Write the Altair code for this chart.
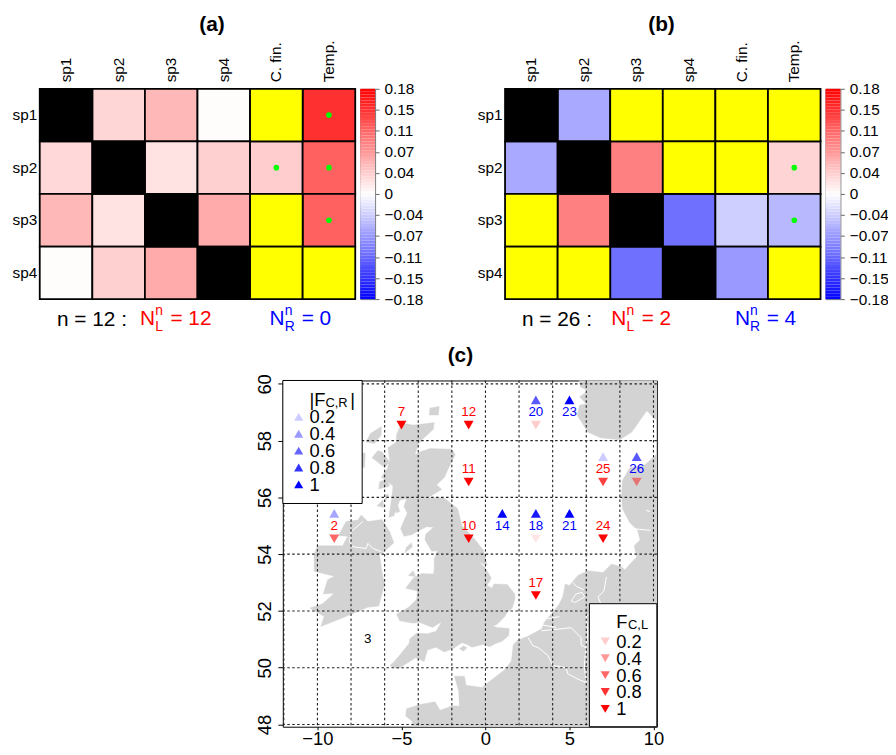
import altair as alt
import pandas as pd

FONT = "Liberation Sans"
SPECIES = ["sp1", "sp2", "sp3", "sp4"]
COLUMNS = ["sp1", "sp2", "sp3", "sp4", "C. fin.", "Temp."]

# None = not available (yellow), "d" = diagonal (black)
MATRIX_A = [
    ["d", 0.029, 0.050, 0.002, None, 0.146],
    [0.027, "d", 0.020, 0.033, 0.035, 0.112],
    [0.050, 0.020, "d", 0.059, None, 0.112],
    [0.002, 0.033, 0.059, "d", None, None],
]
DOTS_A = [("sp1", "Temp."), ("sp2", "C. fin."), ("sp2", "Temp."), ("sp3", "Temp.")]
MATRIX_B = [
    ["d", -0.061, None, None, None, None],
    [-0.061, "d", 0.090, None, None, 0.030],
    [None, 0.090, "d", -0.101, -0.034, -0.050],
    [None, None, -0.101, "d", -0.072, None],
]
DOTS_B = [("sp2", "Temp."), ("sp3", "Temp.")]

BAR_TICKS = [-0.18, -0.144, -0.108, -0.072, -0.036, 0, 0.036, 0.072, 0.108, 0.144, 0.18]
BAR_LABELS = ["−0.18", "−0.15", "−0.11", "−0.07", "−0.04", "0", "0.04", "0.07", "0.11", "0.15", "0.18"]
BAR_LEVELS = [round(-0.18 + i * 0.005, 3) for i in range(72)]

SITE_LABELS = ["2", "3", "7", "12", "20", "23", "11", "25", "26", "10", "14", "18", "21", "24", "17"]
SITE_LONS = [-9, -7, -5, -1, 3, 5, -1, 7, 9, -1, 1, 3, 5, 7, 3]
SITE_LATS = [55, 51, 59, 59, 59, 59, 57, 57, 57, 55, 55, 55, 55, 55, 53]
SITE_UP = [0.35, 0, 0, 0, 0.65, 1, 0, 0.2, 0.65, 0, 1, 0.9, 1, 0, 0]
SITE_DOWN = [0.6, 0, 1, 1, 0.2, 0, 1, 0.75, 0.45, 1, 0, 0.1, 0, 1, 1]
SITE_COLORS = ["red", "black", "red", "red", "blue", "blue", "red", "red", "blue", "red", "blue", "blue", "blue", "red", "red"]

GRID_LONS = [-12, -10, -8, -6, -4, -2, 0, 2, 4, 6, 8, 10]
GRID_LATS = [48, 50, 52, 54, 56, 58, 60]
LEGEND_VALUES = [0.2, 0.4, 0.6, 0.8, 1]
LEGEND_LABELS = ["0.2", "0.4", "0.6", "0.8", "1"]

GREAT_BRITAIN = [(-5.0, 58.62), (-4.3, 58.55), (-3.5, 58.6), (-3.05, 58.64), (-3.1, 58.4), (-3.65, 58.1), (-4.0, 57.87), (-4.2, 57.5),
    (-3.9, 57.6), (-3.3, 57.72), (-2.0, 57.7), (-1.8, 57.5), (-2.1, 57.15), (-2.45, 56.7), (-2.9, 56.45), (-2.6, 56.28),
    (-3.4, 56.0), (-3.2, 55.97), (-2.5, 56.0), (-2.0, 55.77), (-1.65, 55.6), (-1.4, 55.0), (-0.6, 54.5), (-0.1, 54.12),
    (0.1, 53.6), (-0.4, 53.72), (0.0, 53.52), (0.35, 53.15), (0.1, 52.9), (0.4, 52.8), (0.5, 52.95), (1.3, 52.93),
    (1.75, 52.6), (1.75, 52.42), (1.6, 52.1), (1.3, 51.95), (1.15, 51.8), (0.7, 51.53), (0.45, 51.47), (0.7, 51.42), (1.42, 51.38),
    (1.38, 51.13), (0.97, 50.92), (0.6, 50.85), (0.25, 50.74), (-0.15, 50.82), (-0.8, 50.72), (-1.1, 50.82), (-1.4, 50.88),
    (-1.85, 50.7), (-2.45, 50.55), (-2.95, 50.72), (-3.45, 50.62), (-3.65, 50.22), (-4.15, 50.35), (-5.2, 49.96), (-5.7, 50.07),
    (-5.45, 50.2), (-4.95, 50.55), (-4.55, 50.85), (-4.5, 51.02), (-4.1, 51.21), (-3.45, 51.2), (-2.95, 51.28), (-2.6, 51.62),
    (-3.15, 51.42), (-3.95, 51.6), (-4.3, 51.57), (-5.1, 51.65), (-5.3, 51.88), (-4.6, 52.12), (-4.1, 52.4), (-4.05, 52.7),
    (-4.75, 52.8), (-4.3, 53.15), (-3.8, 53.32), (-3.1, 53.3), (-3.05, 53.45), (-3.05, 53.85), (-2.85, 54.12), (-3.2, 54.1),
    (-3.6, 54.5), (-3.55, 54.7), (-3.1, 54.95), (-3.5, 54.97), (-4.05, 54.8), (-4.4, 54.68), (-4.85, 54.63), (-5.05, 54.9),
    (-4.65, 55.45), (-4.85, 55.68), (-4.7, 55.95), (-5.1, 55.9), (-5.45, 55.35), (-5.75, 55.3), (-5.6, 55.9), (-5.5, 56.4),
    (-6.2, 56.72), (-5.85, 57.0), (-5.7, 57.3), (-5.8, 57.75), (-5.3, 57.95), (-5.3, 58.2), (-5.0, 58.62)]
IRELAND = [(-7.4, 55.38), (-7.0, 55.15), (-6.15, 55.22), (-5.7, 54.8), (-5.45, 54.4), (-6.0, 54.1), (-6.3, 54.0), (-6.15, 53.35),
    (-6.0, 52.95), (-6.35, 52.17), (-7.0, 52.13), (-8.3, 51.8), (-9.8, 51.45), (-9.6, 51.8), (-10.45, 52.1), (-9.7, 52.25),
    (-9.0, 52.62), (-9.65, 52.6), (-9.4, 53.1), (-9.0, 53.22), (-10.2, 53.4), (-10.2, 53.98), (-10.0, 54.3), (-8.5, 54.3),
    (-8.2, 54.63), (-8.75, 54.65), (-8.3, 55.15), (-7.6, 55.2), (-7.4, 55.38)]
ISLANDS = [
    [(-6.2, 58.5), (-6.85, 58.25), (-7.1, 57.95), (-6.6, 57.9), (-6.2, 58.2)],
    [(-7.4, 57.6), (-7.45, 57.05), (-7.2, 57.05), (-7.15, 57.55)],
    [(-6.4, 57.65), (-6.75, 57.4), (-6.0, 57.05), (-5.7, 57.25), (-6.15, 57.6)],
    [(-6.35, 56.3), (-5.7, 56.4), (-5.9, 56.65), (-6.3, 56.55)],
    [(-6.45, 55.7), (-6.05, 55.65), (-6.1, 55.92)],
    [(-5.95, 55.85), (-5.75, 56.1), (-5.95, 56.1)],
    [(-5.3, 55.45), (-5.1, 55.5), (-5.2, 55.7), (-5.35, 55.65)],
    [(-4.8, 54.05), (-4.35, 54.25), (-4.4, 54.4), (-4.7, 54.25)],
    [(-3.35, 58.9), (-2.8, 58.9), (-2.75, 59.2), (-3.3, 59.15)],
    [(-4.6, 53.25), (-4.15, 53.2), (-4.3, 53.42)],
    [(-1.55, 50.67), (-1.3, 50.77), (-1.1, 50.7), (-1.3, 50.58)],
]
MAINLAND = [(-4.4, 47.8), (-4.35, 48.1), (-4.75, 48.3), (-4.7, 48.55), (-3.9, 48.7), (-3.0, 48.8), (-2.7, 48.5), (-2.0, 48.65),
    (-1.55, 48.65), (-1.6, 49.2), (-1.85, 49.7), (-1.25, 49.7), (-1.15, 49.38), (-0.2, 49.3), (0.2, 49.5), (1.2, 49.95),
    (1.55, 50.25), (1.65, 50.8), (1.9, 50.97), (2.5, 51.1), (3.35, 51.37), (3.5, 51.6), (4.05, 51.98), (4.4, 52.25),
    (4.6, 52.5), (4.75, 52.95), (5.0, 52.9), (5.5, 53.25), (6.1, 53.42), (7.0, 53.35), (7.5, 53.65), (8.1, 53.55),
    (8.3, 53.45), (8.6, 53.65), (9.0, 53.9), (8.85, 54.3), (9.2, 54.5), (9.05, 54.85), (8.6, 55.1), (8.15, 55.6),
    (8.1, 56.05), (8.15, 56.6), (8.6, 57.05), (9.5, 57.15), (10.6, 57.75), (10.6, 47.8)]
NORWAY = [(5.55, 60.2), (5.65, 59.9), (6.1, 59.75), (5.6, 59.55), (6.0, 59.3), (5.6, 59.25), (5.45, 58.9), (6.1, 58.3),
    (6.85, 58.1), (8.0, 58.03), (8.7, 58.3), (9.6, 59.05), (10.1, 58.75), (10.4, 58.9), (10.4, 60.2)]
LAND = [GREAT_BRITAIN, IRELAND, MAINLAND, NORWAY] + ISLANDS

BORDERS = [
    [(-7.3, 55.15), (-8.0, 54.79), (-8.09, 54.44), (-7.89, 54.26), (-7.1, 54.2), (-7.0, 54.38), (-6.7, 54.2), (-6.2, 54.09)],
    [(2.54, 51.06), (2.83, 50.77), (3.13, 50.71), (3.72, 50.43), (4.0, 50.08), (4.8, 50.0), (4.9, 49.78), (5.49, 49.6), (5.98, 49.48)],
    [(3.32, 51.3), (4.2, 51.35), (5.1, 51.41), (5.69, 51.06), (5.69, 50.8), (5.98, 50.7), (5.89, 50.08), (5.98, 49.48)],
    [(7.2, 53.2), (7.05, 52.7), (6.7, 52.5), (6.9, 52.2), (6.0, 51.8), (6.1, 51.2), (5.98, 50.7)],
    [(8.74, 54.9), (9.82, 54.84)],
    [(5.1, 52.35), (5.35, 52.3), (5.9, 52.5), (5.75, 52.65), (5.4, 52.6), (5.1, 52.35)],
    [(5.2, 53.0), (5.45, 52.85), (5.85, 52.75)],
    [(3.4, 51.5), (4.2, 51.42)],
    [(3.7, 51.72), (4.4, 51.8)],
    [(9.55, 55.55), (9.8, 55.5)],
]


def note(text, x, y, size=14, color="black", weight="normal", align="left"):
    opts = dict(font=FONT, fontSize=size, color=color, fontWeight=weight, align=align, baseline="alphabetic")
    return alt.Chart(alt.Data(values=[{}])).mark_text(**opts).encode(
        x=alt.value(x), y=alt.value(y), text=alt.value(text))


COLOR_SCALE = alt.Scale(domain=[-0.18, 0, 0.18], range=["#0000ff", "#ffffff", "#ff0000"], interpolate="rgb")


def heatmap(matrix, dots, title, title_x, texts):
    rows = []
    for r, row in zip(SPECIES, matrix):
        for c, v in zip(COLUMNS, row):
            state = "d" if v == "d" else ("na" if v is None else "v")
            rows.append({"r": r, "c": c, "v": None if state != "v" else v, "state": state})
    df = pd.DataFrame(rows)
    x = alt.X("c:N", sort=COLUMNS, title=None, scale=alt.Scale(domain=COLUMNS, paddingInner=0, paddingOuter=0),
              axis=alt.Axis(orient="top", labelAngle=270, ticks=False, domain=False, labelPadding=7,
                            labelFontSize=15.5, labelFont=FONT, labelColor="black"))
    y = alt.Y("r:N", sort=SPECIES, title=None, scale=alt.Scale(domain=SPECIES, paddingInner=0, paddingOuter=0),
              axis=alt.Axis(ticks=False, domain=False, labelPadding=3, labelFontSize=15.5, labelFont=FONT, labelColor="black"))
    vals = alt.Chart(df[df.state == "v"]).mark_rect(stroke="black", strokeWidth=1.8).encode(
        x=x, y=y, color=alt.Color("v:Q", legend=None, scale=COLOR_SCALE))
    diag = alt.Chart(df[df.state == "d"]).mark_rect(fill="#000000", stroke="black", strokeWidth=1.8).encode(x=x, y=y)
    miss = alt.Chart(df[df.state == "na"]).mark_rect(fill="#ffff00", stroke="black", strokeWidth=1.8).encode(x=x, y=y)
    dd = pd.DataFrame(dots, columns=["r", "c"])
    pts = alt.Chart(dd).mark_point(filled=True, color="#00ff00", size=32, opacity=1).encode(x=x, y=y)
    parts = [vals, diag, miss, pts, note(title, title_x, -58, 21, weight="bold", align="center")]
    parts += [note(*t) for t in texts]
    return alt.layer(*parts).properties(width=318, height=212)


def colorbar():
    df = pd.DataFrame({"a": BAR_LEVELS})
    df["b"] = (df.a + 0.005).round(3)
    df["m"] = (df.a + df.b) / 2
    labels = "[" + ",".join("'" + s + "'" for s in BAR_LABELS) + "]"
    return alt.Chart(df).mark_rect().encode(
        x=alt.value(0), x2=alt.value(15),
        y=alt.Y("a:Q", title=None, scale=alt.Scale(domain=[-0.18, 0.18], nice=False, zero=False),
                axis=alt.Axis(orient="right", values=BAR_TICKS, labelExpr=labels + "[round(datum.value/0.036)+5]",
                              grid=False, domain=False, tickColor="#666666", tickSize=4, labelPadding=5,
                              labelFontSize=15.5, labelFont=FONT, labelColor="black")),
        y2="b:Q",
        color=alt.Color("m:Q", legend=None, scale=COLOR_SCALE),
    ).properties(width=15, height=212, view=alt.ViewConfig(stroke="#777777"))


def poly_df(polys):
    return pd.DataFrame([{"p": k, "i": i, "lon": a, "lat": b} for k, poly in enumerate(polys) for i, (a, b) in enumerate(poly)])


def map_panel():
    xs = alt.Scale(domain=[-12.06, 10.2], nice=False, zero=False)
    ys = alt.Scale(domain=[47.92, 60.12], nice=False, zero=False)
    X = alt.X("lon:Q", title=None, scale=xs,
              axis=alt.Axis(values=[-10, -5, 0, 5, 10], grid=False, domain=False, tickColor="black", tickSize=3, labelPadding=0,
                            labelFontSize=18.5, labelFont=FONT, labelColor="black", format="d"))
    Y = alt.Y("lat:Q", title=None, scale=ys,
              axis=alt.Axis(values=GRID_LATS, grid=False, domain=False, tickColor="black", tickSize=5, labelPadding=3,
                            labelAngle=270, labelFontSize=18.5, labelFont=FONT, labelColor="black", format="d"))
    land = alt.Chart(poly_df(LAND)).mark_line(fill="#d3d3d3", stroke="#d3d3d3", strokeWidth=0.4, interpolate="linear-closed", clip=True).encode(
        x=X, y=Y, detail="p:N", order="i:Q")
    borders = alt.Chart(poly_df(BORDERS)).mark_line(color="white", strokeWidth=1, clip=True).encode(
        x=X, y=Y, detail="p:N", order="i:Q")
    dash = [2.5, 2.5]
    vgrid = alt.Chart(pd.DataFrame({"lon": GRID_LONS})).mark_rule(color="#222222", strokeWidth=1.1, strokeDash=dash).encode(x=X)
    hgrid = alt.Chart(pd.DataFrame({"lat": GRID_LATS})).mark_rule(color="#222222", strokeWidth=1.1, strokeDash=dash).encode(y=Y)
    sites = pd.DataFrame({"t": SITE_LABELS, "lon": SITE_LONS, "lat": SITE_LATS, "up": SITE_UP, "down": SITE_DOWN, "col": SITE_COLORS})
    up = alt.Chart(sites[sites.up > 0]).mark_point(shape="triangle-up", filled=True, color="blue", size=100, yOffset=-12.5).encode(
        x=X, y=Y, opacity=alt.Opacity("up:Q", scale=None, legend=None))
    down = alt.Chart(sites[sites.down > 0]).mark_point(shape="triangle-down", filled=True, color="red", size=100, yOffset=13).encode(
        x=X, y=Y, opacity=alt.Opacity("down:Q", scale=None, legend=None))
    labels = alt.Chart(sites).mark_text(font=FONT, fontSize=13.5, baseline="middle").encode(
        x=X, y=Y, text="t:N", color=alt.Color("col:N", scale=None, legend=None))

    def box(x0, x1, y0, y1):
        return alt.Chart(alt.Data(values=[{}])).mark_rect(fill="white", stroke="black", strokeWidth=1).encode(
            x=alt.value(x0), x2=alt.value(x1), y=alt.value(y0), y2=alt.value(y1))

    def tri(shape, color, x, y, v):
        return alt.Chart(alt.Data(values=[{}])).mark_point(shape=shape, filled=True, color=color, size=85, opacity=v).encode(
            x=alt.value(x), y=alt.value(y))

    parts = [land, borders, vgrid, hgrid, up, down, labels, box(0, 80, 0, 124), box(309, 377, 225, 349)]
    parts += [note("|F", 27, 26, 18.5), note("C,R", 43, 27, 13), note("|", 68, 26, 18.5)]
    parts += [note("F", 336, 249, 18.5), note("C,L", 348, 251, 13)]
    for i, (v, s) in enumerate(zip(LEGEND_VALUES, LEGEND_LABELS)):
        parts += [tri("triangle-up", "blue", 16, 36.7 + i * 17, v), note(s, 27, 43 + i * 17, 18.5)]
        parts += [tri("triangle-down", "red", 325, 263 + i * 17, v), note(s, 336, 269.5 + i * 17, 18.5)]
    parts += [note("(c)", 179, -19, 21, weight="bold", align="center")]
    return alt.layer(*parts).properties(width=377, height=349, view=alt.ViewConfig(stroke="black"))


TEXT_A = [("n = 12 :", 17.3, 239.5, 21), ("N", 101, 238, 21, "red"), ("n", 116.5, 228, 14, "red"), ("L", 116.5, 244.5, 14, "red"),
          ("= 12", 131.7, 238, 21, "red"), ("N", 231.7, 238, 21, "blue"), ("n", 247, 228, 14, "blue"), ("R", 247, 244.5, 14, "blue"),
          ("= 0", 264, 238, 21, "blue")]
TEXT_B = [("n = 26 :", 17, 239.5, 21), ("N", 107, 238, 21, "red"), ("n", 122.5, 228, 14, "red"), ("L", 122.5, 244.5, 14, "red"),
          ("= 2", 137.7, 238, 21, "red"), ("N", 231.7, 238, 21, "blue"), ("n", 247, 228, 14, "blue"), ("R", 247, 244.5, 14, "blue"),
          ("= 4", 263.7, 238, 21, "blue")]

gap = alt.Chart(alt.Data(values=[{}])).mark_point(opacity=0).encode(x=alt.value(0), y=alt.value(0)).properties(width=121, height=212)
top = alt.hconcat(heatmap(MATRIX_A, DOTS_A, "(a)", 173.7, TEXT_A), colorbar(), gap,
                  heatmap(MATRIX_B, DOTS_B, "(b)", 157.7, TEXT_B), colorbar(), spacing=5, bounds="flush")
blank = alt.Chart(alt.Data(values=[{}])).mark_point(opacity=0).encode(x=alt.value(0), y=alt.value(0)).properties(width=244.5, height=349)
bottom = alt.hconcat(blank, map_panel(), spacing=0, bounds="flush")
chart = alt.vconcat(top, bottom, spacing=9, padding={"left": 4, "top": 3.5, "right": -1, "bottom": -4.5}).configure_view(stroke=None).configure_text(font=FONT)

chart.save("out.html", embed_options={"renderer": "svg", "actions": False})
